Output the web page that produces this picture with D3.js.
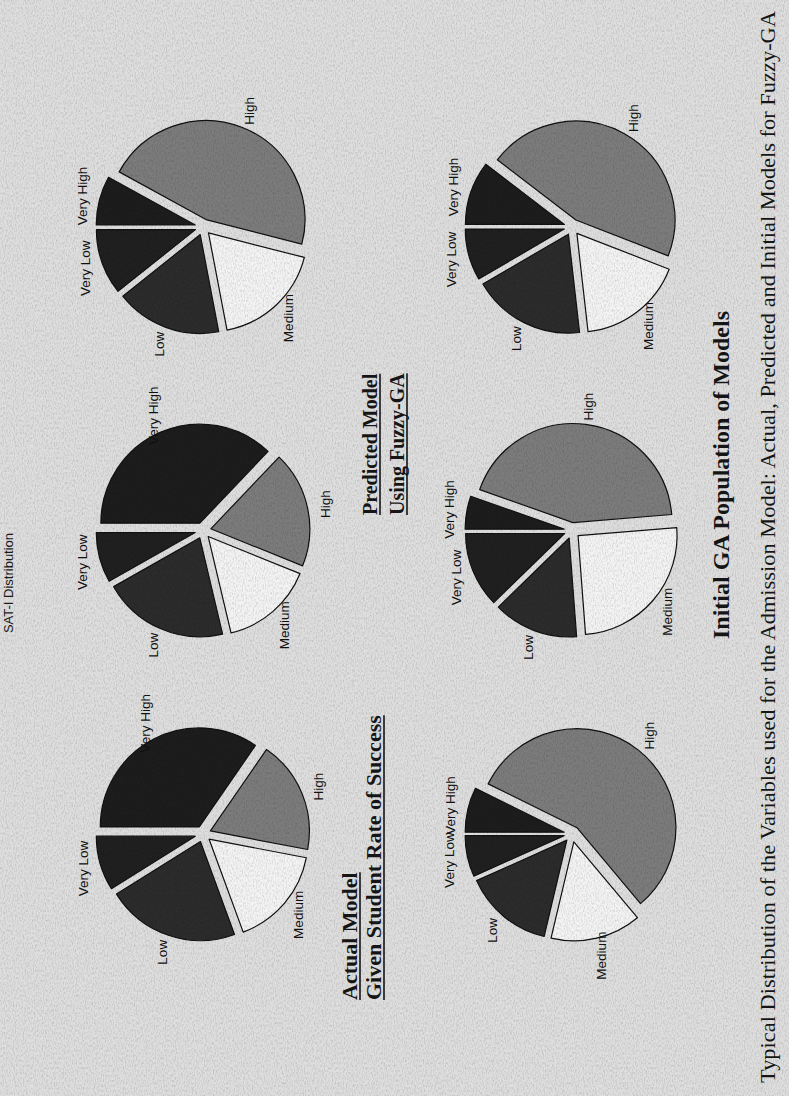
<!DOCTYPE html>
<html>
<head>
<meta charset="utf-8">
<script src="https://cdn.jsdelivr.net/npm/d3@7"></script>
<style>
  html, body { margin: 0; padding: 0; background: #dcdcdc; }
  svg { display: block; }
</style>
</head>
<body>
<svg id="page" width="789" height="1096"></svg>
<script>
// Variable levels, in the order the slices run (counter-clockwise from 12 o'clock)
const categories = ["Very Low", "Low", "Medium", "High", "Very High"];

// Share of each level (%) for every model shown
const actualModel    = [8.9, 21.7, 16.4, 18.4, 34.6];
const predictedModel = [8.2, 20.5, 15.2, 19.0, 37.1];
const initialModel1  = [10.7, 17.3, 18.0, 46.0, 8.0];
const initialModel2  = [6.7, 14.6, 14.8, 56.6, 7.3];
const initialModel3  = [12.3, 13.9, 25.1, 43.3, 5.4];
const initialModel4  = [8.4, 18.4, 17.3, 45.5, 10.4];

// Texts
const headerText     = "SAT-I Distribution";
const actualTitle    = ["Actual Model", "Given Student Rate of Success"];
const predictedTitle = ["Predicted Model", "Using Fuzzy-GA"];
const initialTitle   = "Initial GA Population of Models";
const captionText    = "Typical Distribution of the Variables used for the Admission Model: Actual, Predicted and Initial Models for Fuzzy-GA";

// Grid placement of the six pies (column, row)
const panels = [
  { values: actualModel,    col: 0, row: 0 },
  { values: predictedModel, col: 1, row: 0 },
  { values: initialModel1,  col: 2, row: 0 },
  { values: initialModel2,  col: 0, row: 1 },
  { values: initialModel3,  col: 1, row: 1 },
  { values: initialModel4,  col: 2, row: 1 }
];

const W = 789, H = 1096;          // screen; the landscape sheet is turned a quarter left

const svg = d3.select("#page");

// Paper grain
const defs = svg.append("defs");
const grain = defs.append("filter").attr("id", "grain")
  .attr("x", 0).attr("y", 0).attr("width", "100%").attr("height", "100%");
grain.append("feTurbulence").attr("type", "fractalNoise")
  .attr("baseFrequency", "0.9 0.4").attr("numOctaves", 2).attr("seed", 7).attr("result", "n");
grain.append("feColorMatrix").attr("type", "matrix")
  .attr("values", "0 0 0 0 0  0 0 0 0 0  0 0 0 0 0  0 0 0 -1.8 1.05");

svg.append("rect").attr("width", W).attr("height", H).attr("fill", "#dedede");

const page = svg.append("g").attr("transform", `translate(0,${H}) rotate(-90)`);

const colX = d3.scalePoint().domain([0, 1, 2]).range([262, 869]);
const rowY = d3.scalePoint().domain([0, 1]).range([203, 572]);

const fill = d3.scaleOrdinal().domain(categories)
  .range(["#202020", "#2c2c2c", "#f3f3f3", "#7c7c7c", "#1d1d1d"]);

const radius = 99, explode = 8, labelR = 125;

const pie = d3.pie().sort(null).value(d => d)
  .startAngle(0).endAngle(-2 * Math.PI);
const arc = d3.arc().innerRadius(0).outerRadius(radius);

const mid = a => (a.startAngle + a.endAngle) / 2;

panels.forEach(p => {
  const g = page.append("g")
    .attr("transform", `translate(${colX(p.col)},${rowY(p.row)})`);
  const arcs = pie(p.values).map((a, i) => Object.assign(a, { cat: categories[i] }));

  g.selectAll("path.slice").data(arcs).join("path")
    .attr("class", "slice")
    .attr("transform", a => `translate(${explode * Math.sin(mid(a))},${-explode * Math.cos(mid(a))})`)
    .attr("d", arc)
    .attr("fill", a => fill(a.cat))
    .attr("stroke", "#111")
    .attr("stroke-width", 1.2)
    .attr("stroke-linejoin", "round");

  g.selectAll("text.lbl").data(arcs).join("text")
    .attr("class", "lbl")
    .attr("x", a => labelR * Math.sin(mid(a)))
    .attr("y", a => -labelR * Math.cos(mid(a)))
    .attr("dy", "0.35em")
    .attr("text-anchor", "middle")
    .attr("font-family", "Liberation Sans, Arial, sans-serif")
    .attr("font-size", 13.5)
    .attr("fill", "#111")
    .text(a => a.cat);
});

// Underlined bold heading lines
function heading(lines, x, y0, lineGap, size) {
  lines.forEach((t, i) => {
    const y = y0 + i * lineGap;
    const txt = page.append("text")
      .attr("x", x).attr("y", y)
      .attr("font-family", "Liberation Serif, Times New Roman, serif")
      .attr("font-weight", "bold")
      .attr("font-size", size)
      .attr("fill", "#161616")
      .text(t);
    const len = txt.node().getComputedTextLength();
    page.append("line")
      .attr("x1", x).attr("x2", x + len)
      .attr("y1", y + 3).attr("y2", y + 3)
      .attr("stroke", "#161616").attr("stroke-width", 1.6);
  });
}
heading(actualTitle, 96, 357, 24, 22);
heading(predictedTitle, 581, 377, 27, 20);

page.append("text")
  .attr("x", 621).attr("y", 729)
  .attr("text-anchor", "middle")
  .attr("font-family", "Liberation Serif, Times New Roman, serif")
  .attr("font-weight", "bold")
  .attr("font-size", 24)
  .attr("fill", "#161616")
  .text(initialTitle);

page.append("text")
  .attr("x", 13).attr("y", 775)
  .attr("font-family", "Liberation Serif, Times New Roman, serif")
  .attr("font-size", 21)
  .attr("textLength", 1072)
  .attr("lengthAdjust", "spacingAndGlyphs")
  .attr("fill", "#161616")
  .text(captionText);

page.append("text")
  .attr("x", 513).attr("y", 13)
  .attr("text-anchor", "middle")
  .attr("font-family", "Liberation Sans, Arial, sans-serif")
  .attr("font-size", 13)
  .attr("fill", "#1a1a1a")
  .text(headerText);

// Grain over the whole sheet
svg.append("rect").attr("width", W).attr("height", H)
  .attr("filter", "url(#grain)").attr("opacity", 0.16);
</script>
</body>
</html>
